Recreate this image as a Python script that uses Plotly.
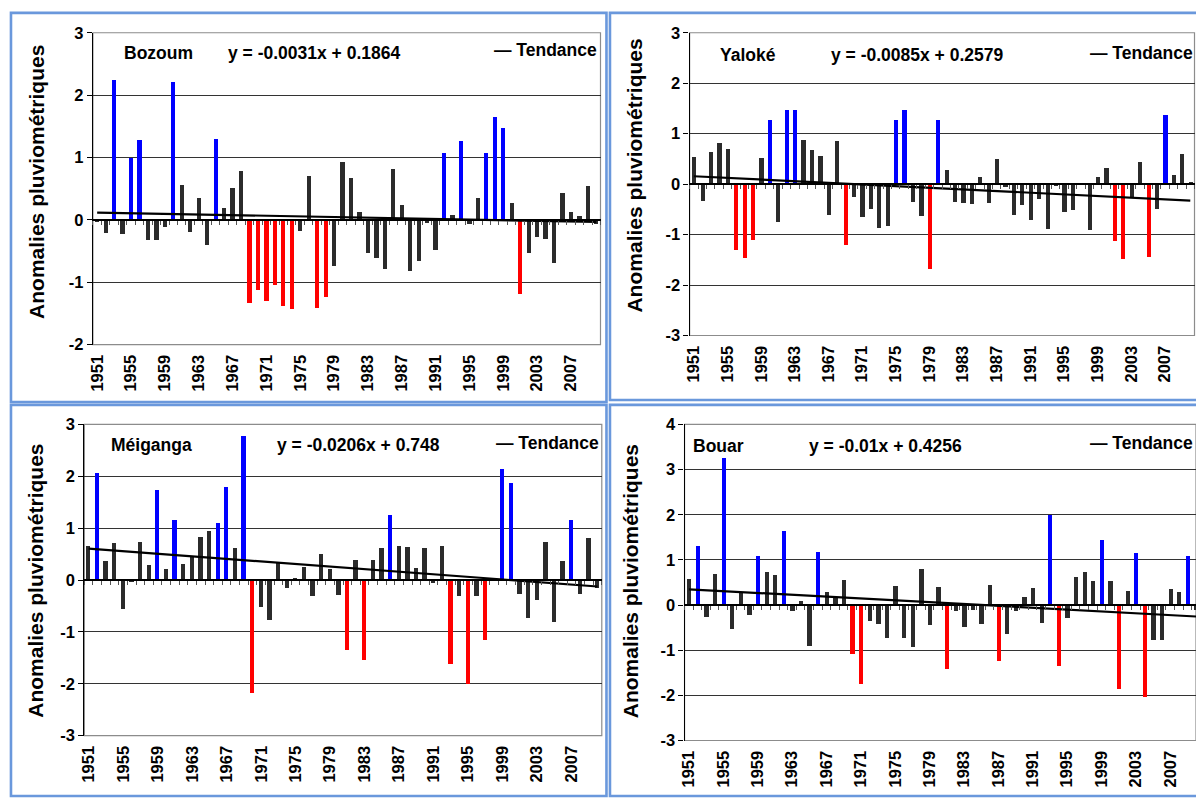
import numpy as np
import plotly.graph_objects as go

W, H = 1196, 802

years = list(range(1951, 2011))
year_ticks = list(range(1951, 2011, 4))

bozoum = [-0.02, -0.20, 2.24, -0.22, 1.00, 1.29, -0.32, -0.32, -0.11, 2.22,
          0.57, -0.19, 0.36, -0.40, 1.30, 0.19, 0.51, 0.79, -1.33, -1.12,
          -1.30, -1.04, -1.37, -1.43, -0.17, 0.70, -1.41, -1.23, -0.73, 0.93,
          0.68, 0.13, -0.53, -0.60, -0.79, 0.82, 0.24, -0.81, -0.66, -0.04,
          -0.48, 1.08, 0.08, 1.27, -0.06, 0.36, 1.07, 1.66, 1.48, 0.28,
          -1.18, -0.52, -0.27, -0.31, -0.69, 0.43, 0.13, 0.07, 0.55, -0.07]

yaloke = [0.55, -0.32, 0.65, 0.82, 0.71, -1.31, -1.45, -1.10, 0.52, 1.27,
          -0.74, 1.47, 1.48, 0.87, 0.69, 0.57, -0.61, 0.85, -1.21, -0.26,
          -0.65, -0.48, -0.87, -0.83, 1.27, 1.48, -0.34, -0.63, -1.67, 1.27,
          0.28, -0.34, -0.37, -0.39, 0.14, -0.37, 0.51, -0.05, -0.61, -0.41,
          -0.71, -0.28, -0.89, -0.04, -0.55, -0.50, 0.03, -0.91, 0.15, 0.33,
          -1.13, -1.48, -0.25, 0.45, -1.44, -0.48, 1.38, 0.19, 0.61, 0.05]

meiganga = [0.65, 2.06, 0.35, 0.70, -0.56, -0.04, 0.73, 0.29, 1.72, 0.21,
            1.15, 0.30, 0.43, 0.83, 0.93, 1.10, 1.79, 0.61, 2.77, -2.19,
            -0.53, -0.77, 0.33, -0.17, 0.04, 0.25, -0.32, 0.50, 0.21, -0.30,
            -1.35, 0.38, -1.55, 0.38, 0.61, 1.24, 0.65, 0.63, 0.23, 0.60,
            -0.06, 0.65, -1.63, -0.31, -2.01, -0.31, -1.16, 0.01, 2.13, 1.87,
            -0.28, -0.75, -0.39, 0.72, -0.81, 0.35, 1.15, -0.28, 0.80, -0.17]

bouar = [0.56, 1.30, -0.27, 0.68, 3.24, -0.53, 0.27, -0.22, 1.08, 0.72,
         0.66, 1.64, -0.15, 0.09, -0.91, 1.17, 0.27, 0.14, 0.55, -1.10,
         -1.75, -0.37, -0.44, -0.75, 0.41, -0.75, -0.94, 0.79, -0.45, 0.39,
         -1.42, -0.14, -0.50, -0.13, -0.44, 0.44, -1.25, -0.66, -0.15, 0.17,
         0.36, -0.40, 1.99, -1.35, -0.30, 0.62, 0.72, 0.53, 1.42, 0.52,
         -1.87, 0.30, 1.14, -2.05, -0.79, -0.79, 0.35, 0.28, 1.07, -0.12]

stations = ["Bozoum", "Yaloké", "Méiganga", "Bouar"]
equations = ["y = -0.0031x + 0.1864", "y = -0.0085x + 0.2579",
             "y = -0.0206x + 0.748", "y = -0.01x + 0.4256"]
series = [bozoum, yaloke, meiganga, bouar]

FONT = "Liberation Sans, Arial, sans-serif"

# layout of each panel, in pixels of the 1196x802 page
panels = [
    dict(plot=(88.3, 598, 24.3, 343.3), yr=(-2, 3), xmax=2010.5,
         frame=(6, 604, 4, 402), name=(117, 45), eq=(222, 45), leg=(489, 42),
         title=(31, 177)),
    dict(plot=(687.5, 1194.5, 24.3, 334), yr=(-3, 3), xmax=2010.5,
         frame=(607.5, 1199, 4, 400), name=(716, 47), eq=(827, 47), leg=(1088, 45),
         title=(632, 170)),
    dict(plot=(79.7, 599.3, 425, 743.3), yr=(-3, 3), xmax=2010.5,
         frame=(6, 604, 405, 805), name=(104, 446), eq=(271, 446), leg=(491, 444),
         title=(31, 585)),
    dict(plot=(682.4, 1196, 425, 748.3), yr=(-3, 4), xmax=2010.0,
         frame=(607.5, 1199, 405, 805), name=(689, 447), eq=(805, 447), leg=(1088, 444),
         title=(628, 585)),
]


def px(x):
    return x / W


def py(y):
    return 1 - y / H


def bar_color(v):
    if v >= 1:
        return "#0000ff"
    if v <= -1:
        return "#ff0000"
    return "#2b2b2b"


fig = go.Figure()
annotations = []
shapes = []
bold = dict(family=FONT, size=17.5, color="black", weight="bold")

for k, (name, eq, vals, p) in enumerate(zip(stations, equations, series, panels), start=1):
    sfx = "" if k == 1 else str(k)
    osfx = str(k + 4)
    x0, x1, yt, yb = p["plot"]
    ymin, ymax = p["yr"]
    xdom = [px(x0), min(px(x1), 1.0)]
    ydom = [py(yb), py(yt)]
    zero_pos = ydom[0] + (0 - ymin) / (ymax - ymin) * (ydom[1] - ydom[0])
    yticks = list(range(ymin, ymax + 1))

    fig.add_trace(go.Bar(
        x=years, y=vals, width=0.5,
        marker=dict(color=[bar_color(v) for v in vals], line=dict(width=0)),
        xaxis="x" + sfx, yaxis="y" + sfx, showlegend=False, name=name,
    ))

    # linear trend (least squares on the year index)
    idx = np.arange(1, len(vals) + 1)
    slope, icpt = np.polyfit(idx, vals, 1)
    fig.add_trace(go.Scatter(
        x=years, y=slope * idx + icpt, mode="lines",
        line=dict(color="black", width=2.2),
        xaxis="x" + osfx, yaxis="y" + sfx, showlegend=False, name="Tendance",
    ))

    fig.layout["xaxis" + sfx] = dict(
        domain=xdom, anchor="y" + sfx, range=[1950.5, p["xmax"]],
        tickvals=year_ticks, tickangle=-90, ticks="", showgrid=False,
        showline=False, zeroline=False, ticklabelstandoff=6,
        tickfont=dict(family=FONT, size=16.5, color="black", weight="bold"),
    )
    # category axis crossing at zero, with tick marks between the years
    fig.layout["xaxis" + osfx] = dict(
        overlaying="x" + sfx, anchor="free", position=zero_pos,
        range=[1950.5, p["xmax"]], tick0=1950.5, dtick=1,
        ticks="outside", ticklen=4, tickcolor="#555", tickwidth=1,
        showticklabels=False, showgrid=False, zeroline=False,
        showline=True, linecolor="black", linewidth=1.6,
    )
    fig.layout["yaxis" + sfx] = dict(
        domain=ydom, anchor="x" + sfx, range=[ymin, ymax],
        tickvals=yticks, ticktext=[str(v) for v in yticks],
        showgrid=True, gridcolor="#333333", gridwidth=1, zeroline=False,
        showline=True, linecolor="black", linewidth=1.3,
        ticks="outside", ticklen=5, tickcolor="black",
        tickfont=dict(family=FONT, size=16.5, color="black", weight="bold"),
    )

    shapes.append(dict(type="rect", xref="x" + sfx + " domain", yref="y" + sfx + " domain",
                       x0=0, x1=1, y0=0, y1=1, layer="below",
                       line=dict(color="#8c8c8c", width=1.2)))
    fx0, fx1, fy0, fy1 = p["frame"]
    shapes.append(dict(type="rect", xref="paper", yref="paper",
                       x0=px(fx0), x1=px(fx1), y0=py(fy1), y1=py(fy0),
                       line=dict(color="#6a98dc", width=2.6)))

    annotations.append(dict(text=name, x=px(p["name"][0]), y=py(p["name"][1]),
                            xref="paper", yref="paper", xanchor="left", yanchor="middle",
                            showarrow=False, font=bold))
    annotations.append(dict(text=eq, x=px(p["eq"][0]), y=py(p["eq"][1]),
                            xref="paper", yref="paper", xanchor="left", yanchor="middle",
                            showarrow=False, font=bold))
    annotations.append(dict(text="— Tendance", x=px(p["leg"][0]), y=py(p["leg"][1]),
                            xref="paper", yref="paper", xanchor="left", yanchor="middle",
                            showarrow=False, font=bold))
    annotations.append(dict(text="Anomalies pluviométriques", textangle=-90,
                            x=px(p["title"][0]), y=py(p["title"][1]),
                            xref="paper", yref="paper", xanchor="center", yanchor="middle",
                            showarrow=False,
                            font=dict(family=FONT, size=21, color="black", weight="bold")))

fig.update_layout(
    width=W, height=H,
    margin=dict(l=0, r=0, t=0, b=0),
    paper_bgcolor="white", plot_bgcolor="white",
    bargap=0, annotations=annotations, shapes=shapes,
    font=dict(family=FONT, color="black"),
)

fig.write_html(
    "out.html",
    config={"displayModeBar": False},
    post_script="document.body.style.margin='0';document.body.style.overflow='hidden';",
)
